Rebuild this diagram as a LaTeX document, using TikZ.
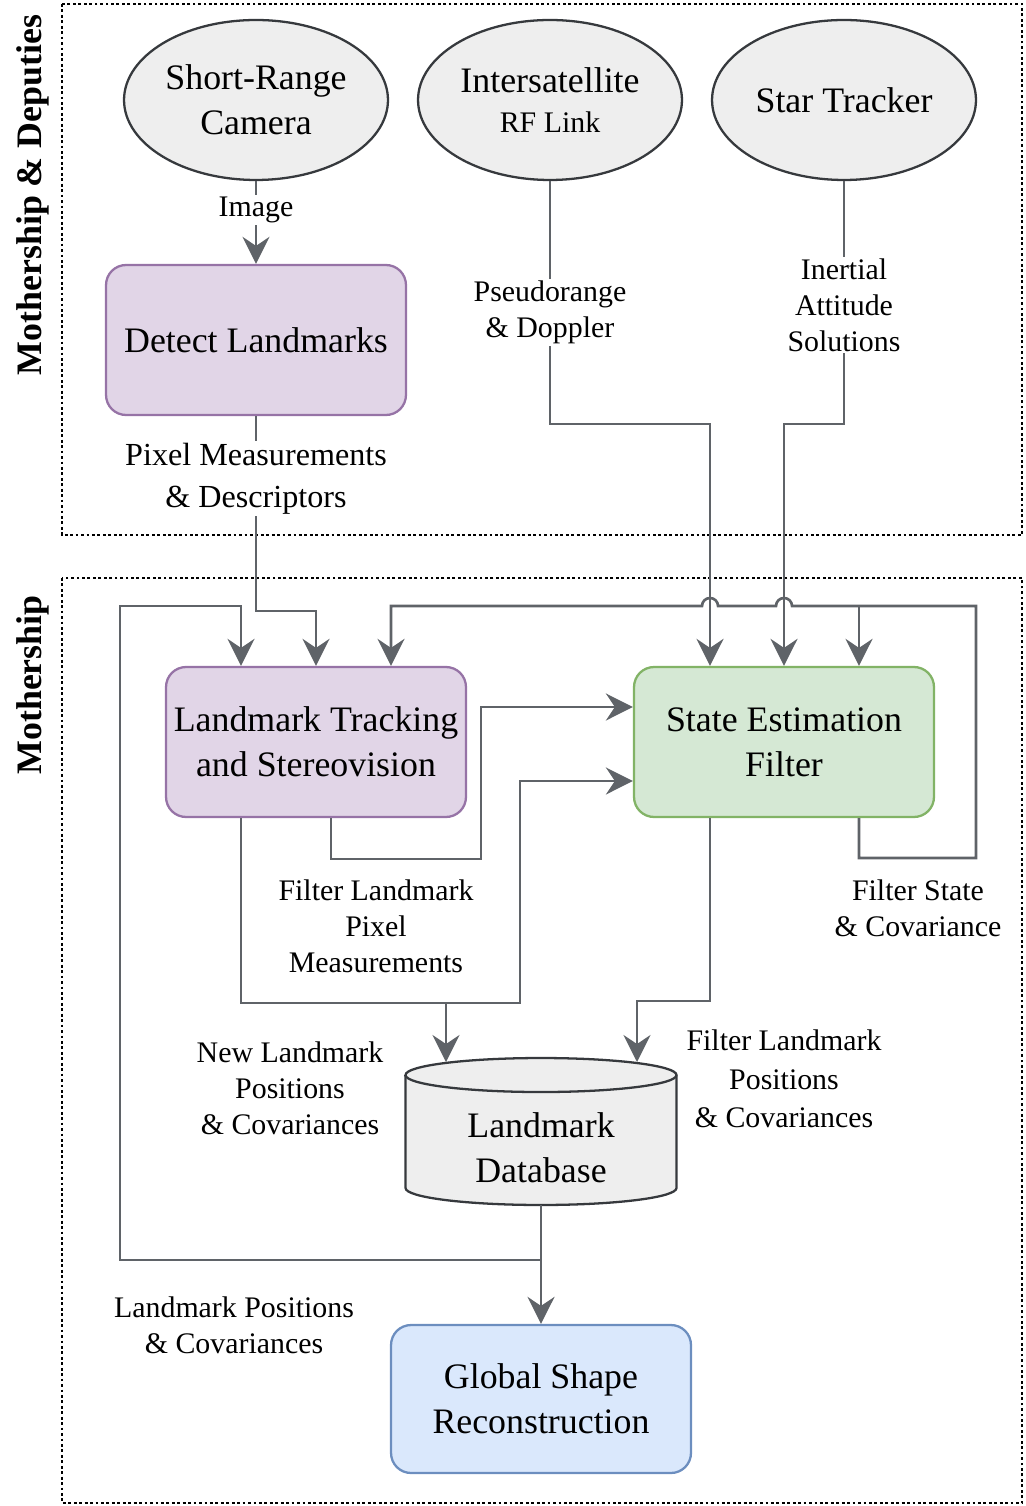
\documentclass[tikz,border=0pt]{standalone}
\usepackage{fontspec}
\setmainfont{Liberation Serif}
\usetikzlibrary{
  arrows.meta,
  positioning,
  shapes.geometric,
  calc
}
\definecolor{linecolor}{RGB}{95,99,104}
\definecolor{sensorfill}{RGB}{238,238,238}
\definecolor{sensordraw}{RGB}{54,57,61}
\definecolor{trackfill}{RGB}{225,213,231}
\definecolor{trackdraw}{RGB}{150,115,166}
\definecolor{filterfill}{RGB}{213,232,212}
\definecolor{filterdraw}{RGB}{130,179,102}
\definecolor{shapefill}{RGB}{218,232,252}
\definecolor{shapedraw}{RGB}{108,142,191}

\newcommand{\boxfont}{\fontsize{20.4}{25.5}\selectfont}
\newcommand{\lblfont}{\fontsize{17}{20.4}\selectfont}
\newcommand{\lblbigfont}{\fontsize{18.3}{23.8}\selectfont}
\newcommand{\groupfont}{\fontsize{20.4}{24}\selectfont\bfseries}

\tikzset{
  sensor/.style={ellipse, draw=sensordraw, fill=sensorfill, line width=1.3pt,
    minimum width=5.28cm, minimum height=3.2cm, inner sep=0pt,
    align=center, font=\boxfont},
  stepbox/.style={rectangle, rounded corners=0.4cm, line width=1.3pt,
    minimum width=6cm, minimum height=3cm, inner sep=2pt,
    align=center, font=\boxfont},
  dbase/.style={rectangle, minimum width=5.42cm, minimum height=2.94cm,
    inner sep=0pt, outer sep=0pt},
  dbtext/.style={align=center, font=\boxfont, yshift=-0.32cm},
  dbline/.style={draw=sensordraw, fill=sensorfill, line width=1.3pt},
  flow/.style={draw=linecolor, line width=1.5pt,
    -{Stealth[length=0.54cm, width=0.54cm, inset=0.18cm]}},
  lbl/.style={fill=white, align=center, font=\lblfont, inner sep=1pt},
  group/.style={draw=black, line width=1.6pt, dash pattern=on 1.6pt off 1.5pt},
  grouplabel/.style={rotate=90, font=\groupfont}
}

\begin{document}
\begin{tikzpicture}[x=0.02cm, y=-0.02cm]
  \useasboundingbox (0,0) rectangle (1026,1506);

  % ---- groups ----
  \draw[group] (62,4) rectangle (1022,535);
  \draw[group] (62,578) rectangle (1022,1503);
  \node[grouplabel] (gtop) at (33,195) {Mothership \& Deputies};
  \node[grouplabel] (gbot) at (33,685) {Mothership};

  % ---- sensors ----
  \foreach \nm/\x/\txt in {cam/256/{Short-Range\\Camera},
                           isl/550/{Intersatellite\\[-3pt]{\lblfont RF Link}},
                           star/844/{Star Tracker}} {
    \node[sensor] (\nm) at (\x,100) {\txt};
  }

  % ---- processing blocks ----
  \node[stepbox, draw=trackdraw, fill=trackfill] (det) at (256,340) {Detect Landmarks};
  \node[stepbox, draw=trackdraw, fill=trackfill] (trk) at (316,742)
    {Landmark Tracking\\and Stereovision};
  \node[stepbox, draw=filterdraw, fill=filterfill] (sef) at (784,742)
    {State Estimation\\Filter};
  \node[stepbox, draw=shapedraw, fill=shapefill, minimum height=2.96cm] (gsr) at (541,1399)
    {Global Shape\\Reconstruction};

  % database cylinder: body, then front rim of the lid
  \node[dbase] (db) at (541,1131.5) {};
  \path[dbline] ($(db.north west)+(0,17)$) -- ($(db.south west)+(0,-17)$)
      arc[start angle=180, end angle=360, x radius=2.71cm, y radius=0.34cm]
      -- ($(db.north east)+(0,17)$)
      arc[start angle=0, end angle=180, x radius=2.71cm, y radius=0.34cm] -- cycle;
  \draw[dbline, fill=none] ($(db.north east)+(0,17)$)
      arc[start angle=0, end angle=-180, x radius=2.71cm, y radius=0.34cm];
  \node[dbtext] (dbtxt) at (db.center) {Landmark\\Database};

  \coordinate (bus) at (976,606);

  % ---- top group connectors ----
  \draw[flow] (cam) -- node[lbl, pos=0.35] (lblimg) {Image} (det);
  \draw[flow] (det.south) -- node[lbl, font=\lblbigfont, pos=0.32] (lblpxd)
      {Pixel Measurements\\\& Descriptors} ++(0,195) -| (trk.north);
  \draw[flow] (isl.south) -- node[lbl, pos=0.54] (lblrf)
      {Pseudorange\\\& Doppler} ++(0,243) -| ($(sef.north)+(-74,0)$);
  \draw[flow] (star.south) -- node[lbl, pos=0.51] (lblatt)
      {Inertial\\Attitude\\Solutions} ++(0,243) -| (sef.north);

  % filter state feedback, hopping over the two sensor lines
  \draw[flow] ($(sef.south)+(75,0)$) |- ($(bus)+(0,252)$) -- (bus)
      -- ($(sef.north |- bus)+(8,0)$)
      arc[start angle=0, end angle=180, radius=0.16cm]
      -- ($(sef.north |- bus)+(-66,0)$)
      arc[start angle=0, end angle=180, radius=0.16cm]
      -| ($(trk.north)+(75,0)$);
  \draw[flow] ($(sef.north |- bus)+(75,0)$) -- ($(sef.north)+(75,0)$);
  \node[lbl] (lblstate) at (918,908) {Filter State\\\& Covariance};

  % ---- tracking to filter and database ----
  \draw[flow] ($(trk.south)+(15,0)$) |- ++(150,41) |- ($(sef.west)+(0,-35)$);
  \draw[flow] ($(trk.south)+(-75,0)$) |- ++(279,185) |- ($(sef.west)+(0,39)$);
  \draw[flow] ($(trk.south)+(-75,0)$) |- ++(205,185) -- ($(db.north)+(-95,4)$);
  \draw[flow] ($(sef.south)+(-74,0)$) |- ++(-73,183) -- ($(db.north)+(96,4)$);

  \node[lbl] (lblfpx) at (376,926) {Filter Landmark\\Pixel\\Measurements};
  \node[lbl] (lblnew) at (290,1088) {New Landmark\\Positions\\\& Covariances};
  \node[lbl, font=\fontsize{17}{22}\selectfont] (lblfpos) at (784,1079)
    {Filter Landmark\\Positions\\\& Covariances};

  % ---- database to reconstruction and back to tracking ----
  \draw[flow] (db.south) -- (gsr.north);
  \draw[flow] ($(db.south)+(0,55)$) -| ($(trk.west |- bus)+(-45,0)$) -| ($(trk.north)+(-75,0)$);
  \node[lbl] (lbllpos) at (234,1325) {Landmark Positions\\\& Covariances};

\end{tikzpicture}
\end{document}
